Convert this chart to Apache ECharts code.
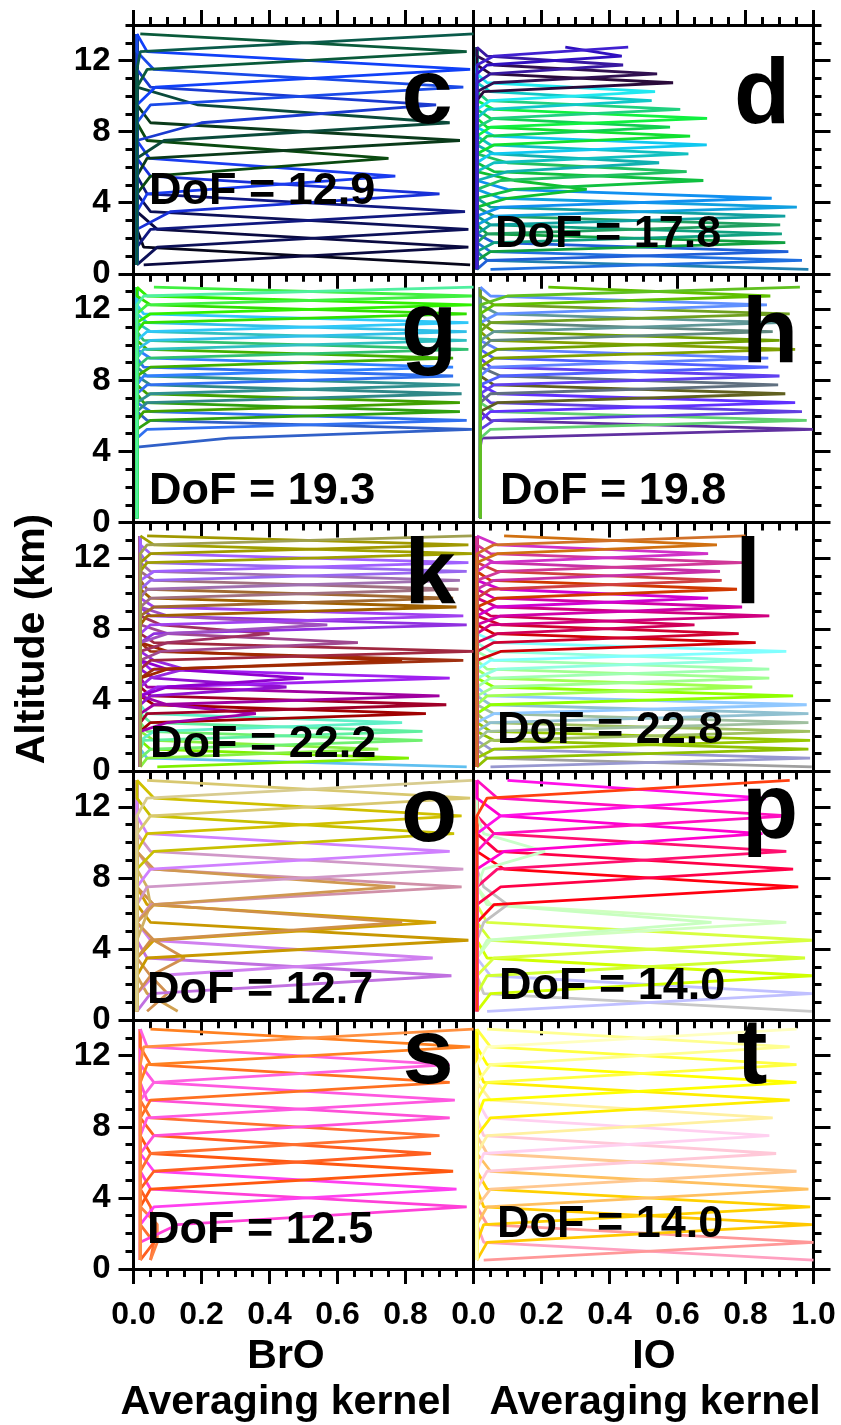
<!DOCTYPE html>
<html>
<head>
<meta charset="utf-8">
<script src="https://cdn.jsdelivr.net/npm/echarts@6/dist/echarts.min.js"></script>
<style>
html, body { margin: 0; padding: 0; background: #fff; }
#main { width: 841px; height: 1425px; }
</style>
</head>
<body>
<div id="main"></div>
<script>
// altitude grids (km) the kernels are given on
var alt1 = [0.5, 1.5, 2.5, 3.5, 4.5, 5.5, 6.5, 7.5, 8.5, 9.5, 10.5, 11.5, 12.5, 13.5];
var altHalf = [0.25, 0.75, 1.25, 1.75, 2.25, 2.75, 3.25, 3.75, 4.25, 4.75, 5.25, 5.75, 6.25, 6.75,
               7.25, 7.75, 8.25, 8.75, 9.25, 9.75, 10.25, 10.75, 11.25, 11.75, 12.25, 12.75, 13.25];
var altHalfD = [0.25, 0.75, 1.25, 1.75, 2.25, 2.75, 3.25, 3.75, 4.25, 4.75, 5.25, 5.75, 6.25, 6.75,
                7.25, 7.75, 8.25, 8.75, 9.25, 9.75, 10.25, 10.75, 11.25, 11.75, 12.25, 12.75];

// each kernel line: altitude of its peak, value at the peak, values one level below / above
// panel c (BrO)
var cAlt = [0.5, 1.5, 2.5, 3.5, 4.5, 5.5, 6.5, 7.5, 8.5, 9.5, 10.5, 11.5, 12.5, 13.5];
var cVal = [0.99, 0.985, 0.985, 0.975, 0.90, 0.77, 0.75, 0.96, 0.93, 0.89, 0.97, 0.99, 0.98, 1.0];
var cLo  = [0.01, 0.03, 0.07, 0.05, 0.11, 0.04, 0.05, 0.04, 0.09, 0.2, 0.05, 0.064, 0.04, 0.02];
var cHi  = [0.03, 0.07, 0.05, 0.04, 0.05, 0.047, 0.04, 0.05, 0.19, 0.05, 0.06, 0.04, 0.02, 0];
var cCol = ['#06061a', '#0a0a40', '#0c1058', '#101880', '#1830d8', '#1a3cf0', '#0a4a10', '#0a3a1a',
            '#0a4a3a', '#1a3ad0', '#1a4ae8', '#1040f8', '#0a5a3a', '#0a5a4a'];

// panel d (IO)
var dAlt = altHalfD;
var dVal = [0.985, 0.966, 0.926, 0.917, 0.907, 0.902, 0.917, 0.951, 0.877, 0.333, 0.676, 0.627, 0.546,
            0.632, 0.686, 0.637, 0.578, 0.687, 0.608, 0.524, 0.534, 0.587, 0.54, 0.44, 0.436, 0.455];
var dLo  = [0, 0.05, 0.04, 0.05, 0.06, 0.04, 0.05, 0.06, 0.08, 0.1, 0.12, 0.08, 0.1, 0.06, 0.05, 0.06,
            0.04, 0.05, 0.06, 0.04, 0.05, 0.03, 0.06, 0.05, 0.04, 0.06];
var dHi  = [0.04, 0.05, 0.06, 0.04, 0.05, 0.06, 0.05, 0.08, 0.1, 0.12, 0.06, 0.1, 0.06, 0.05, 0.06, 0.04,
            0.05, 0.06, 0.04, 0.05, 0.04, 0.05, 0.06, 0.04, 0.27, 0];
var dCol = ['#2080b0', '#2070e0', '#2060d8', '#10a040', '#10a080', '#20a060', '#10a0a0', '#10a0e0', '#1090f0',
            '#10c030', '#10c040', '#20c060', '#10b0b0', '#10c0c0', '#10c8f0', '#10e030', '#10d050', '#10f040',
            '#20d080', '#10c8c8', '#20e8f0', '#2a0a3a', '#301050', '#3818a0', '#3010c0', '#4020d0'];

// panel g (BrO)
var gAlt = [5.25, 5.75, 6.25, 6.75, 7.25, 7.75, 8.25, 8.75, 9.25, 9.75, 10.25, 10.75, 11.25, 11.75, 12.25, 12.75, 13.25];
var gVal = [0.995, 0.98, 0.96, 0.96, 0.965, 0.96, 0.94, 0.94, 0.94, 0.985, 0.98, 0.98, 0.985, 0.98, 0.995, 0.995, 1.0];
var gLo  = [0.28, 0.04, 0.05, 0.03, 0.04, 0.05, 0.04, 0.03, 0.05, 0.04, 0.03, 0.05, 0.04, 0.03, 0.05, 0.04, 0.03];
var gHi  = [0.04, 0.05, 0.03, 0.04, 0.05, 0.04, 0.03, 0.05, 0.04, 0.03, 0.05, 0.04, 0.03, 0.05, 0.04, 0.06, 0];
var gCol = ['#3060c8', '#3070f0', '#30a010', '#40a000', '#308888', '#309090', '#3070f0', '#3080ff', '#40b000',
            '#30c070', '#30c0c0', '#30c0e8', '#30c8f8', '#30e000', '#30f000', '#40f040', '#50f0a0'];

// panel h (IO)
var hAlt = [5.25, 5.75, 6.25, 6.75, 7.25, 7.75, 8.25, 8.75, 9.25, 9.75, 10.25, 10.75, 11.25, 11.75, 12.25, 12.75, 13.25];
var hVal = [0.998, 0.98, 0.966, 0.946, 0.917, 0.896, 0.9, 0.867, 0.867, 0.946, 0.9, 0.88, 0.9, 0.93, 0.863, 0.873, 0.96];
var hLo  = [0.024, 0.05, 0.06, 0.05, 0.07, 0.05, 0.06, 0.08, 0.05, 0.06, 0.07, 0.05, 0.06, 0.05, 0.07, 0.06, 0.1];
var hHi  = [0.05, 0.06, 0.05, 0.07, 0.06, 0.08, 0.05, 0.06, 0.07, 0.05, 0.06, 0.05, 0.07, 0.06, 0.05, 0.22, 0];
var hCol = ['#6030a0', '#60d070', '#6040e0', '#6030ff', '#606020', '#607080', '#6040f0', '#5060ff', '#6080ff',
            '#80a000', '#70a000', '#608880', '#609898', '#70a020', '#6090ff', '#60c000', '#60c020'];

// panel k (BrO)
var kAlt = [0.25, 0.75, 1.25, 1.75, 2.25, 2.75, 3.25, 3.25, 3.75, 4.25, 4.75, 5.25, 5.25, 5.75, 6.25, 6.25,
            6.75, 7.25, 7.75, 8.25, 8.25, 8.75, 9.25, 9.75, 10.25, 10.75, 11.25, 11.75, 12.25, 12.75, 13.25];
var kVal = [0.98, 0.81, 0.72, 0.85, 0.85, 0.79, 0.86, 0.36, 0.92, 0.9, 0.45, 0.93, 0.5, 0.15, 0.97, 0.79,
            1.0, 0.66, 0.4, 0.98, 0.57, 0.97, 0.95, 0.94, 0.956, 0.96, 0.98, 0.985, 0.995, 0.985, 0.995];
var kLo  = [0, 0.07, 0.04, 0.05, 0.03, 0.06, 0.05, 0.1, 0.04, 0.06, 0.05, 0.07, 0.1, 0.05, 0.06, 0.1,
            0.05, 0.08, 0.1, 0.06, 0.1, 0.05, 0.04, 0.06, 0.05, 0.04, 0.05, 0.06, 0.04, 0.05, 0.04];
var kHi  = [0.04, 0.05, 0.06, 0.04, 0.05, 0.04, 0.06, 0.1, 0.05, 0.04, 0.06, 0.05, 0.1, 0.06, 0.05, 0.1,
            0.06, 0.1, 0.08, 0.05, 0.1, 0.06, 0.05, 0.04, 0.06, 0.05, 0.04, 0.05, 0.06, 0.04, 0];
var kCol = ['#60c0f0', '#80f000', '#88f040', '#70f070', '#60f0a0', '#60f0c8', '#a00000', '#a000a8', '#a00028',
            '#a000a0', '#9010d0', '#a020f0', '#9000d0', '#9828e0', '#a03010', '#a02800', '#a02840', '#a04890',
            '#a03060', '#9030e0', '#a050c0', '#a040f0', '#a06000', '#a06830', '#a07080', '#a070b0', '#9868f0',
            '#a060ff', '#a0a000', '#a09800', '#a0a050'];

// panel l (IO)
var lAlt = altHalf;
var lVal = [0.995, 0.99, 0.985, 0.99, 0.99, 0.985, 0.985, 0.98, 0.94, 0.82, 0.87, 0.87, 0.82, 0.92, 0.83,
            0.78, 0.65, 0.87, 0.79, 0.69, 0.775, 0.73, 0.725, 0.79, 0.69, 0.716, 0.80];
var lLo  = [0, 0.05, 0.04, 0.06, 0.05, 0.04, 0.05, 0.06, 0.05, 0.04, 0.06, 0.05, 0.07, 0.05, 0.08, 0.06,
            0.07, 0.05, 0.08, 0.06, 0.07, 0.05, 0.06, 0.08, 0.05, 0.07, 0.06];
var lHi  = [0.04, 0.05, 0.06, 0.05, 0.04, 0.06, 0.05, 0.04, 0.06, 0.05, 0.04, 0.06, 0.05, 0.07, 0.06, 0.08,
            0.05, 0.07, 0.06, 0.08, 0.05, 0.07, 0.06, 0.05, 0.07, 0.09, 0];
var lCol = ['#a0a0a0', '#9898d0', '#90c000', '#98c800', '#a0c060', '#a0c0a0', '#90c0d0', '#90c8ff', '#90ff00',
            '#a0ff50', '#a0ff90', '#a0ffb0', '#90ffe0', '#80ffff', '#d00008', '#d00030', '#d00058', '#d00080',
            '#d000a8', '#d000d0', '#d03800', '#d04040', '#c830a8', '#d03898', '#d030c8', '#d07010', '#d07028'];

// panel o (BrO)
var oAlt = [0.5, 1.5, 2.5, 3.5, 3.5, 4.5, 5.5, 5.5, 6.5, 7.5, 7.5, 8.5, 9.5, 10.5, 11.5, 12.5, 13.5];
var oVal = [0.13, 0.1, 0.935, 0.88, 0.15, 0.985, 0.89, 0.79, 0.05, 0.965, 0.77, 0.97, 0.93, 0.943, 0.965, 0.99, 0.995];
var oLo  = [0, 0.04, 0.05, 0.06, 0.05, 0.04, 0.06, 0.05, 0.03, 0.05, 0.06, 0.04, 0.05, 0.06, 0.04, 0.05, 0.04];
var oHi  = [0.04, 0.05, 0.04, 0.05, 0.06, 0.05, 0.04, 0.06, 0.04, 0.05, 0.06, 0.05, 0.04, 0.05, 0.06, 0.04, 0];
var oCol = ['#d0a050', '#d09050', '#c070e0', '#d080f0', '#d09050', '#c89800', '#d0a000', '#d09048', '#d0b060',
            '#d090a8', '#d09850', '#d098c8', '#d080ff', '#c8c000', '#d0c000', '#d8c870', '#d8cc90'];

// panel p (IO)
var pAlt = [0.5, 1.5, 2.5, 3.5, 4.5, 5.5, 5.5, 6.5, 7.5, 8.5, 9.5, 9.5, 10.5, 11.5, 12.5, 13.5];
var pVal = [0.995, 0.995, 0.995, 0.975, 0.995, 0.92, 0.70, 0.1, 0.955, 0.94, 0.92, 0.21, 0.85, 0.93, 0.86, 0.93];
var pLo  = [0, 0.04, 0.05, 0.04, 0.06, 0.05, 0.04, 0.03, 0.06, 0.08, 0.07, 0.03, 0.09, 0.06, 0.08, 0.04];
var pHi  = [0.03, 0.05, 0.04, 0.05, 0.04, 0.05, 0.04, 0.03, 0.09, 0.07, 0.06, 0.03, 0.08, 0.07, 0.1, 0];
var pCol = ['#c8c8c8', '#c0c0ff', '#d0ff00', '#d0ff30', '#d8ff40', '#d0ffc0', '#c8ffc0', '#c0c0c0', '#ff0010',
            '#ff0048', '#ff1070', '#c8ffc8', '#ff00d0', '#ff10c0', '#ff10e8', '#ff4010'];

// panel s (BrO)
var sAlt = alt1;
var sVal = [0.05, 0.07, 0.06, 0.98, 0.95, 0.94, 0.875, 0.90, 0.93, 0.945, 0.93, 0.93, 0.99, 1.0];
var sLo  = [0, 0.05, 0.06, 0.13, 0.06, 0.05, 0.06, 0.05, 0.06, 0.04, 0.05, 0.06, 0.04, 0.03];
var sHi  = [0.06, 0.07, 0.05, 0.05, 0.06, 0.05, 0.06, 0.05, 0.04, 0.06, 0.05, 0.04, 0.05, 0];
var sCol = ['#ff7030', '#ff8040', '#ff6020', '#ff40d8', '#ff40f0', '#ff5810', '#ff6020', '#ff7030', '#ff50d8',
            '#ff58e0', '#ff7020', '#ff60e0', '#ff8020', '#ff9040'];

// panel t (IO)
var tAlt = alt1;
var tVal = [1.0, 1.0, 0.995, 0.99, 0.985, 0.95, 0.89, 0.87, 0.88, 0.93, 0.95, 0.95, 0.93, 0.95];
var tLo  = [0, 0.03, 0.04, 0.03, 0.04, 0.05, 0.04, 0.03, 0.04, 0.05, 0.03, 0.04, 0.05, 0.04];
var tHi  = [0.03, 0.04, 0.03, 0.04, 0.05, 0.04, 0.03, 0.04, 0.05, 0.03, 0.04, 0.05, 0.04, 0];
var tCol = ['#ffa0c0', '#ff9898', '#ffc800', '#ffd000', '#ffc060', '#ffc890', '#ffc8d8', '#ffd0f0', '#fff0a0',
            '#ffee00', '#ffff00', '#ffff40', '#ffff90', '#ffffc0'];

// value of every kernel away from its peak
var panelFloor = [0.01, 0.01, 0.01, 0.02, 0.02, 0.01, 0.01, 0.01, 0.02, 0.01];
var panelTags = ['c', 'd', 'g', 'h', 'k', 'l', 'o', 'p', 's', 't'];
var dofText = ['DoF = 12.9', 'DoF = 17.8', 'DoF = 19.3', 'DoF = 19.8', 'DoF = 22.2',
               'DoF = 22.8', 'DoF = 12.7', 'DoF = 14.0', 'DoF = 12.5', 'DoF = 14.0'];

var panels = [
	{lv: alt1, alt: cAlt, val: cVal, lo: cLo, hi: cHi, col: cCol},
	{lv: altHalfD, alt: dAlt, val: dVal, lo: dLo, hi: dHi, col: dCol},
	{lv: altHalf, alt: gAlt, val: gVal, lo: gLo, hi: gHi, col: gCol},
	{lv: altHalf, alt: hAlt, val: hVal, lo: hLo, hi: hHi, col: hCol},
	{lv: altHalf, alt: kAlt, val: kVal, lo: kLo, hi: kHi, col: kCol},
	{lv: altHalf, alt: lAlt, val: lVal, lo: lLo, hi: lHi, col: lCol},
	{lv: alt1, alt: oAlt, val: oVal, lo: oLo, hi: oHi, col: oCol},
	{lv: alt1, alt: pAlt, val: pVal, lo: pLo, hi: pHi, col: pCol},
	{lv: alt1, alt: sAlt, val: sVal, lo: sLo, hi: sHi, col: sCol},
	{lv: alt1, alt: tAlt, val: tVal, lo: tLo, hi: tHi, col: tCol}
];

// layout (px)
var FONT = '"Liberation Sans", Arial, Helvetica, sans-serif';
var colLeft = [133.5, 473.5];
var panelW = 340, panelH = 248.8, top0 = 25;
var tagPos = [[427, 98], [762, 98], [429, 332], [770, 337], [430, 578], [748, 578], [429, 816], [770, 813], [428, 1058], [752, 1058]];
var dofPos = [[149, 192], [495, 235], [149, 492], [500, 492], [150, 745], [497, 731], [147, 991], [499, 987], [147, 1231], [497, 1225]];

function blackLine() {
	return {color: '#000', width: 3};
}

// one polyline per kernel: points (value, altitude) on the panel's altitude grid
function kernelLines(p, floor) {
	var out = [];
	for (var k = 0; k < p.alt.length; k++) {
		var pk = p.lv.indexOf(p.alt[k]);
		var pts = [];
		for (var j = 0; j < p.lv.length; j++) {
			var v = floor;
			if (j === pk) v = p.val[k];
			else if (j === pk - 1) v = p.lo[k];
			else if (j === pk + 1) v = p.hi[k];
			pts.push([v, p.lv[j]]);
		}
		out.push({data: pts, color: p.col[k]});
	}
	return out;
}

function xAxisCfg(gi, pos, withLabels, col) {
	return {
		gridIndex: gi, type: 'value', min: 0, max: 1, interval: 0.2, position: pos,
		axisLine: {show: true, onZero: false, lineStyle: blackLine()},
		axisTick: {show: true, length: 15, lineStyle: blackLine()},
		minorTick: {show: true, splitNumber: 4, length: 8, lineStyle: blackLine()},
		splitLine: {show: false},
		axisLabel: {
			show: withLabels, margin: 30, color: '#000', fontSize: 32, fontWeight: 'bold', fontFamily: FONT,
			formatter: function (v) {
				if (col === 0 && v > 0.99) return '';   // left panel: 1.0 hidden under the right panel's 0.0
				return v.toFixed(1);
			}
		}
	};
}

var grids = [], xAxes = [], yAxes = [], series = [], graphics = [];

for (var i = 0; i < panels.length; i++) {
	var r = Math.floor(i / 2), c = i % 2;
	var pLeft = colLeft[c], pTop = top0 + r * panelH;

	// main grid: data + x axes + 1 km ticks
	var gi = grids.length;
	grids.push({left: pLeft, top: pTop, width: panelW, height: panelH, containLabel: false});
	var xi = xAxes.length;
	xAxes.push(xAxisCfg(gi, 'bottom', r === 4, c));
	if (r === 0) xAxes.push(xAxisCfg(gi, 'top', false, c));
	var yi = yAxes.length;
	yAxes.push({
		gridIndex: gi, type: 'value', min: 0, max: 14, interval: 1, position: 'left',
		axisLine: {show: true, onZero: false, lineStyle: blackLine()},
		axisTick: {show: c === 0, length: 8, lineStyle: blackLine()},
		axisLabel: {show: false}, splitLine: {show: false}
	});
	if (c === 1) {
		yAxes.push({
			gridIndex: gi, type: 'value', min: 0, max: 14, interval: 1, position: 'right',
			axisLine: {show: true, onZero: false, lineStyle: blackLine()},
			axisTick: {show: true, length: 8, lineStyle: blackLine()},
			axisLabel: {show: false}, splitLine: {show: false}
		});
	}

	// second grid over 0-12 km only, for the long ticks at 0, 4, 8, 12
	var ga = grids.length;
	grids.push({left: pLeft, top: pTop + 2 * panelH / 14, width: panelW, height: 12 * panelH / 14, containLabel: false});
	xAxes.push({gridIndex: ga, type: 'value', min: 0, max: 1, interval: 0.2, show: false});
	yAxes.push({
		gridIndex: ga, type: 'value', min: 0, max: 12, interval: 4, position: c === 0 ? 'left' : 'right',
		axisLine: {show: false, onZero: false},
		axisTick: {show: true, length: c === 0 ? 15 : 17, lineStyle: blackLine()},
		axisLabel: {show: c === 0, margin: 23, color: '#000', fontSize: 33, fontWeight: 'bold', fontFamily: FONT},
		splitLine: {show: false}
	});

	var lines = kernelLines(panels[i], panelFloor[i]);
	for (var n = 0; n < lines.length; n++) {
		series.push({
			type: 'line', xAxisIndex: xi, yAxisIndex: yi, data: lines[n].data,
			showSymbol: false, symbol: 'none', silent: true, animation: false,
			lineStyle: {width: 2.8, color: lines[n].color}
		});
	}

	graphics.push({
		type: 'text', x: tagPos[i][0], y: tagPos[i][1], z: 100,
		style: {text: panelTags[i], font: 'bold 92px ' + FONT, fill: '#000',
			textAlign: 'center', textVerticalAlign: 'middle'}
	});
	graphics.push({
		type: 'text', x: dofPos[i][0], y: dofPos[i][1], z: 100,
		style: {text: dofText[i], font: 'bold 45px ' + FONT, fill: '#000',
			textAlign: 'left', textVerticalAlign: 'middle'}
	});
}

// axis titles
var titles = [
	['BrO', 286, 1357], ['Averaging kernel', 286, 1403],
	['IO', 654, 1357], ['Averaging kernel', 655, 1403]
];
titles.forEach(function (t) {
	graphics.push({
		type: 'text', x: t[1], y: t[2], z: 100,
		style: {text: t[0], font: 'bold 41px ' + FONT, fill: '#000',
			textAlign: 'center', textVerticalAlign: 'middle'}
	});
});
graphics.push({
	type: 'text', x: 33, y: 639, rotation: Math.PI / 2, z: 100,
	style: {text: 'Altitude (km)', font: 'bold 41px ' + FONT, fill: '#000',
		textAlign: 'center', textVerticalAlign: 'middle'}
});

var myChart = echarts.init(document.getElementById('main'));
var option = {
	animation: false,
	backgroundColor: '#fff',
	grid: grids,
	xAxis: xAxes,
	yAxis: yAxes,
	series: series,
	graphic: {elements: graphics}
};
myChart.setOption(option);
</script>
</body>
</html>
